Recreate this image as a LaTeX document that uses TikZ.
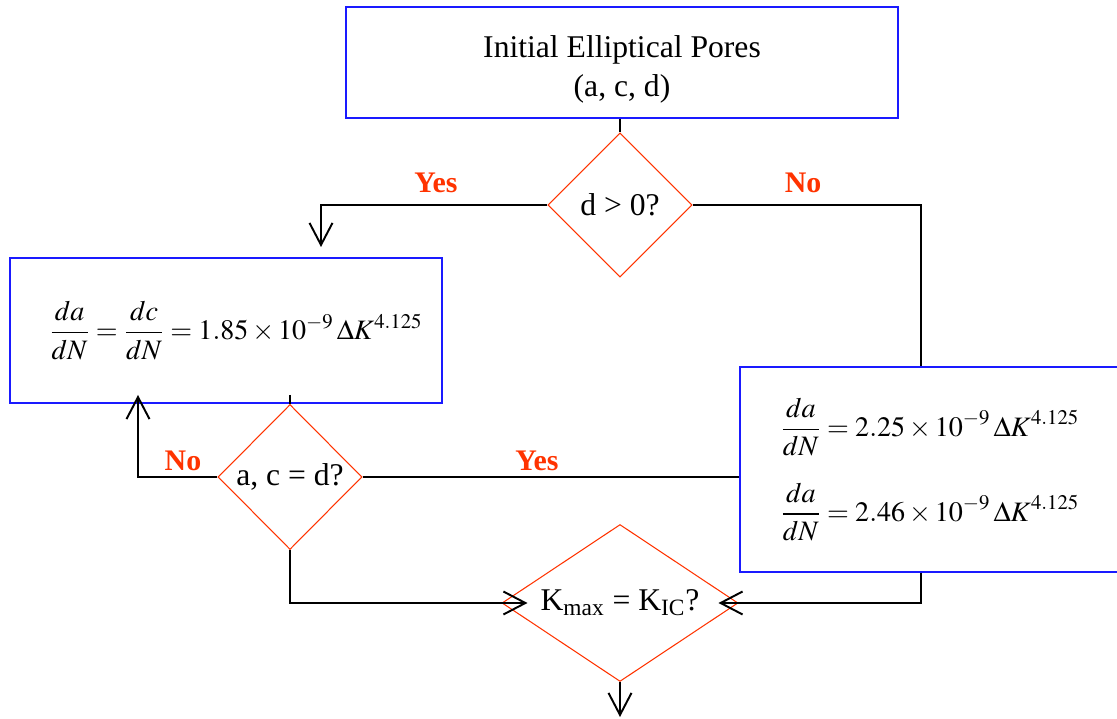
\documentclass[tikz,border=0pt]{standalone}
\usepackage{mathptmx}
\usepackage[no-math]{fontspec}
\setmainfont{Liberation Serif}
\usetikzlibrary{shapes.geometric,arrows.meta}
\definecolor{boxblue}{RGB}{26,26,255}
\definecolor{decred}{RGB}{255,51,0}

\begin{document}
\begin{tikzpicture}[x=0.02cm,y=-0.02cm,
    box/.style={draw=boxblue,line width=0.8pt,inner sep=0pt},
    test/.style={draw=decred,line width=0.6pt,shape=diamond,inner sep=0pt},
    flow/.style={draw=black,line width=1.1pt},
    arr/.style={flow,-{Straight Barb[length=0.44cm,width=0.46cm]}},
    ans/.style={text=decred,font=\fontsize{17}{20}\selectfont\bfseries},
    eqn/.style={font=\fontsize{16}{20}\selectfont},
    font=\fontsize{18}{22}\selectfont]

  \useasboundingbox (0,0) rectangle (1117,719);

  \node[box,minimum width=11.04cm,minimum height=2.22cm,align=center] (pores) at (622,62.5) {\rule{0pt}{20pt}Initial Elliptical Pores\\(a, c, d)};
  \node[test,minimum width=2.88cm,minimum height=2.88cm] (dpos) at (620,205) {d > 0?};

  \node[box,eqn,minimum width=8.64cm,minimum height=2.9cm] (slow) at (226,330.5)
    {\hspace{0.4cm}$\displaystyle\frac{da}{dN}=\frac{dc}{dN}=1.85\times10^{-9}\,\Delta K^{4.125}$};
  \node[box,eqn,minimum width=7.6cm,minimum height=4.1cm,align=center] (fast) at (930,469.5)
    {$\displaystyle\frac{da}{dN}=2.25\times10^{-9}\,\Delta K^{4.125}$\\[14pt]
     $\displaystyle\frac{da}{dN}=2.46\times10^{-9}\,\Delta K^{4.125}$};

  \node[test,minimum width=2.88cm,minimum height=2.9cm] (equal) at (290,477) {a, c = d?};
  \node[test,aspect=1.5,minimum width=4.72cm,minimum height=3.14cm] (kic) at (620,603) {K\textsubscript{max} = K\textsubscript{IC}?};

  \node[ans] (yes1) at (436,183) {Yes};
  \node[ans] (no1) at (803,183) {No};
  \node[ans] (no2) at (183,461) {No};
  \node[ans] (yes2) at (537,461) {Yes};

  \coordinate (yestip) at (321,247);
  \coordinate (notip) at (138,395);
  \coordinate (stub) at (290,395);
  \coordinate (outtip) at (620,717);

  % connectors
  \draw[flow] (dpos.north |- pores.south) -- (dpos.north);
  \draw[arr] (dpos.west) -| (yestip);
  \draw[flow] (dpos.east) -| ([xshift=-0.18cm]fast.north);
  \draw[flow] (stub) -- (equal.north);
  \draw[arr] (equal.west) -| (notip);
  \draw[flow] (equal.east) -- (equal.east -| fast.west);
  \draw[arr,shorten >=-0.52cm] (equal.south) |- (kic.west);
  \draw[arr,shorten >=-0.4cm] ([xshift=-0.18cm]fast.south) |- (kic.east);
  \draw[arr] (kic.south) -- (outtip);

\end{tikzpicture}
\end{document}
